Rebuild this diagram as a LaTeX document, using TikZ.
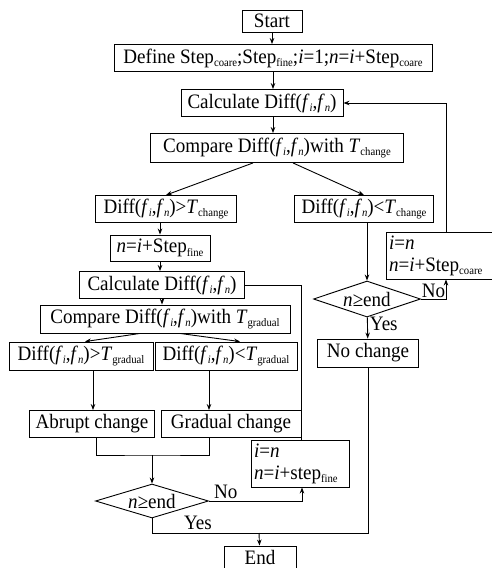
\documentclass[tikz,border=0pt]{standalone}
\usepackage{fontspec}
\setmainfont{Liberation Serif}[FakeStretch=0.93]
\usetikzlibrary{shapes.geometric, arrows.meta}

\newcommand{\lo}[1]{\raisebox{-3.5pt}{\fontsize{11.5}{11.5}\selectfont #1}}
\newcommand{\dif}{Diff(\textit{f}\lo{\textit{i}},\textit{f}\lo{\textit{n}})}

\begin{document}
\begin{tikzpicture}[x=1pt, y=-1pt, line width=0.9pt, >={Stealth[length=6pt, width=4.5pt]},
  every node/.style={font=\fontsize{20.5}{22}\selectfont, inner sep=2pt},
  box/.style={draw, minimum height=27},
  note/.style={draw, align=left, text width=92, minimum height=47, inner sep=3},
  dec/.style={draw, diamond, aspect=3.3, inner sep=0pt, minimum width=107, minimum height=36}]
  \useasboundingbox (0,0) rectangle (492,568);
  \node [box, minimum width=60, minimum height=22] (start) at (272,21) {Start};
  \node [box, minimum width=318] (define) at (273,58) {Define Step\lo{coare};Step\lo{fine};\textit{i}=1;\textit{n}=\textit{i}+Step\lo{coare}};
  \node [box, minimum width=162] (calc1) at (262,103) {Calculate \dif};
  \node [box, minimum width=253, minimum height=29] (comp1) at (277,148) {Compare \dif{}with \textit{T}\lo{change}};
  \node [box, minimum width=141] (dgc) at (166,209) {\dif>\textit{T}\lo{change}};
  \node [box, minimum width=139] (dlc) at (364,209) {\dif<\textit{T}\lo{change}};
  \node [box, minimum width=100, minimum height=26] (fine) at (160,248) {\textit{n}=\textit{i}+Step\lo{fine}};
  \node [box, minimum width=165] (calc2) at (162,285) {Calculate \dif};
  \node [box, minimum width=250, minimum height=28] (comp2) at (165,319) {Compare \dif{}with \textit{T}\lo{gradual}};
  \node [box, minimum width=144, minimum height=28] (dgg) at (81,356) {\dif>\textit{T}\lo{gradual}};
  \node [box, minimum width=142, minimum height=28] (dlg) at (226,356) {\dif<\textit{T}\lo{gradual}};
  \node [box, minimum width=125] (abrupt) at (92,424) {Abrupt change};
  \node [box, minimum width=140] (gradual) at (231,424) {Gradual change};
  \node [note, text width=92] (upfine) at (300,463.5) {\textit{i}=\textit{n}\\\textit{n}=\textit{i}+step\lo{fine}};
  \node [dec, minimum width=113, minimum height=34] (dec2) at (152,501) {\textit{n}≥end};
  \node [box, minimum width=72, minimum height=22] (endn) at (260,557) {End};
  \node [note, text width=108] (upcoarse) at (443,255.5) {\textit{i}=\textit{n}\\\textit{n}=\textit{i}+Step\lo{coare}};
  \node [dec] (dec1) at (367,299) {\textit{n}≥end};
  \node [box, minimum width=101, minimum height=28] (nochange) at (368,353) {No change};
  \coordinate (join) at (152,455);
  \coordinate (merge) at (259,533);
  \draw [->] (start) -- (start |- define.north);
  \draw [->] (define) -- (define |- calc1.north);
  \draw [->] (define |- calc1.south) -- (define |- comp1.north);
  \draw [->] ([xshift=-24]comp1.south) -- (dgc.north);
  \draw [->] ([xshift=16]comp1.south) -- (dlc.north);
  \draw [->] (fine |- dgc.south) -- (fine);
  \draw [->] (fine) -- (fine |- calc2.north);
  \draw [->] (calc2) -- (calc2 |- comp2.north);
  \draw [->] ([xshift=-25]comp2.south) -- ([xshift=4]dgg.north);
  \draw [->] ([xshift=15]comp2.south) -- ([xshift=14]dlg.north);
  \draw [->] ([xshift=12]dgg.south) -- ([xshift=12]dgg.south |- abrupt.north);
  \draw [->] ([xshift=-17]dlg.south) -- ([xshift=-17]dlg.south |- gradual.north);
  \draw ([xshift=4]abrupt.south) |- (join) -| ([xshift=-22]gradual.south);
  \draw [->] (join) -- (dec2);
  \draw [->] (dec2.east) -| node [pos=0.09, above] (no2) {No} ([xshift=2]upfine.south);
  \draw ([xshift=1]upfine.north) |- (calc2.east);
  \draw [->] (dec1 |- dlc.south) -- (dec1);
  \draw [->] (dec1.east) -| node [pos=0.25, above, inner sep=1pt] (no1) {No} ([xshift=3]upcoarse.south);
  \draw [->] ([xshift=3]upcoarse.north) |- (calc1.east);
  \draw [->] (dec1) -- node [pos=0.3, right] (yes1) {Yes} (nochange);
  \draw (dec2.south) |- (nochange.south |- merge) -- (nochange.south);
  \node (yes2) at (198,523) {Yes};
  \draw [->] (merge) -- (endn);
\end{tikzpicture}
\end{document}
